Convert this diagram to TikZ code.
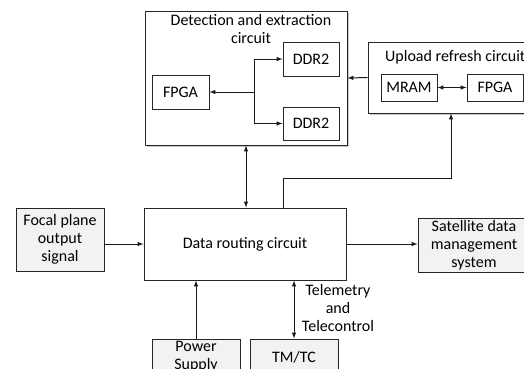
\documentclass[tikz,border=0pt]{standalone}
\usepackage{fontspec}
\setmainfont{Carlito}
\usetikzlibrary{shadows}

\tikzset{
  blk/.style={draw=black!85, line width=1pt, fill=white, align=center, inner sep=0pt},
  ext/.style={blk, fill=gray!10},
  grp/.style={blk, drop shadow={shadow xshift=1.5pt, shadow yshift=-1.5pt, fill=gray!45, opacity=1}},
  lbl/.style={align=center, inner sep=0pt},
  lnk/.style={line width=1pt, draw=black!90}
}

\begin{document}
\begin{tikzpicture}[x=1pt, y=-1pt, font=\fontsize{16}{18}\selectfont]
    \clip (0,0) rectangle (524,368);
    \useasboundingbox (0,0) rectangle (524,368);
    % outer groups
    \node[grp, minimum width=202pt, minimum height=134pt] (det) at (246,78) {};
    \node[grp, minimum width=172pt, minimum height=71pt] (upl) at (454,77.5) {};
    \node[lbl] (dettitle) at (251,29) {Detection and extraction\\circuit};
    \node[lbl, anchor=west] (upltitle) at (385,57) {Upload refresh circuit};
    % inner blocks
    \node[blk, minimum width=57pt, minimum height=34pt] (detfpga) at (180.5,92) {FPGA};
    \node[blk, minimum width=56pt, minimum height=34pt] (ddra) at (311,59) {DDR2};
    \node[blk, minimum width=56pt, minimum height=33pt] (ddrb) at (311,123.5) {DDR2};
    \node[blk, minimum width=56pt, minimum height=27pt] (mram) at (409,87.5) {MRAM};
    \node[blk, minimum width=56pt, minimum height=27pt] (uplfpga) at (495,87.5) {FPGA};
    % main row
    \node[blk, minimum width=202pt, minimum height=72pt] (route) at (245,244) {Data routing circuit};
    \node[ext, minimum width=88pt, minimum height=63pt] (focal) at (60,239.5) {Focal plane\\output\\signal};
    \node[ext, minimum width=112pt, minimum height=54pt] (sat) at (474,245) {Satellite data\\management\\system};
    \node[ext, minimum width=88pt, minimum height=36pt] (power) at (196,357) {Power\\Supply};
    \node[ext, minimum width=88pt, minimum height=36pt] (tmtc) at (294,357) {TM/TC};
    \node[lbl] (telem) at (338,308) {Telemetry\\and\\Telecontrol};
    % links
    \coordinate (br) at (254,92);
    \draw[lnk,-latex] (br) -- (detfpga.east);
    \draw[lnk,-latex] (br) |- (ddra.west);
    \draw[lnk,-latex] (br) |- (ddrb.west);
    \draw[lnk,latex-latex] (mram) -- (uplfpga);
    \draw[lnk,-latex] (upl.west) -- (det.east);
    \draw[lnk,latex-latex] (det.south) -- (det.south |- route.north);
    \coordinate (k1) at (283,178);
    \coordinate (k2) at (451,178);
    \draw[lnk,-latex] (route.north -| k1) -- (k1) -- (k2) -- (upl.south -| k2);
    \draw[lnk,-latex] (focal.east |- route.west) -- (route.west);
    \draw[lnk,-latex] (route.east) -- (route.east -| sat.west);
    \draw[lnk,-latex] (power.north) -- (power.north |- route.south);
    \draw[lnk,latex-latex] (tmtc.north) -- (tmtc.north |- route.south);
\end{tikzpicture}
\end{document}
